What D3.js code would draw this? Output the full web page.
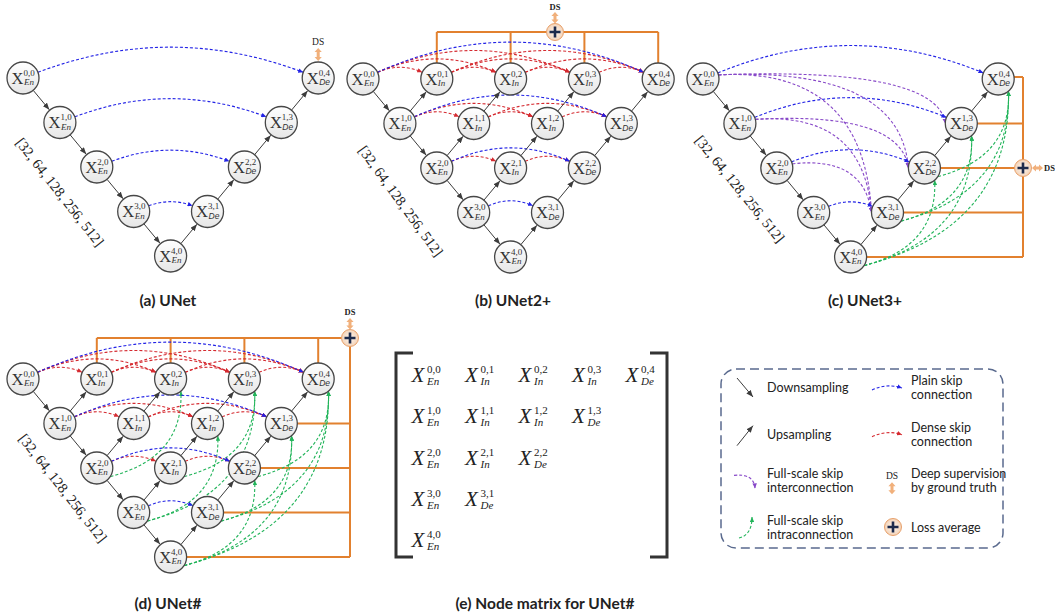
<!DOCTYPE html>
<html>
<head>
<meta charset="utf-8">
<script src="https://cdn.jsdelivr.net/npm/d3@7"></script>
<style>
  body { margin: 0; background: #fff; }
  svg { display: block; }
</style>
</head>
<body>
<svg id="chart"></svg>
<script>
const W = 1055, H = 616;

// node ids are "level,column"
const unetNodes = ["0,0", "1,0", "2,0", "3,0", "4,0", "3,1", "2,2", "1,3", "0,4"];
const nestedNodes = ["0,0", "1,0", "2,0", "3,0", "4,0", "0,1", "1,1", "2,1", "3,1",
  "0,2", "1,2", "2,2", "0,3", "1,3", "0,4"];

const downEdges = [["0,0", "1,0"], ["1,0", "2,0"], ["2,0", "3,0"], ["3,0", "4,0"]];
const upEdgesUNet = [["4,0", "3,1"], ["3,1", "2,2"], ["2,2", "1,3"], ["1,3", "0,4"]];
const upEdgesNested = [["1,0", "0,1"], ["2,0", "1,1"], ["1,1", "0,2"], ["3,0", "2,1"],
  ["2,1", "1,2"], ["1,2", "0,3"], ["4,0", "3,1"], ["3,1", "2,2"], ["2,2", "1,3"], ["1,3", "0,4"]];

const plainSkips = [["0,0", "0,4"], ["1,0", "1,3"], ["2,0", "2,2"], ["3,0", "3,1"]];
const denseSkips = [
  ["0,0", "0,1"], ["0,0", "0,2"], ["0,0", "0,3"], ["0,1", "0,2"], ["0,1", "0,3"], ["0,1", "0,4"],
  ["0,2", "0,3"], ["0,2", "0,4"], ["0,3", "0,4"],
  ["1,0", "1,1"], ["1,0", "1,2"], ["1,1", "1,2"], ["1,1", "1,3"], ["1,2", "1,3"],
  ["2,0", "2,1"], ["2,1", "2,2"]
];
const interSkips3 = [["0,0", "1,3"], ["0,0", "2,2"], ["0,0", "3,1"], ["1,0", "2,2"], ["1,0", "3,1"], ["2,0", "3,1"]];
const intraSkips3 = [["4,0", "2,2"], ["4,0", "1,3"], ["4,0", "0,4"], ["3,1", "1,3"], ["3,1", "0,4"], ["2,2", "0,4"]];
const intraSkipsSharp = [["2,0", "0,2"], ["2,1", "0,3"], ["3,0", "0,3"], ["3,0", "1,2"], ["2,2", "0,4"],
  ["3,1", "0,4"], ["4,0", "0,4"], ["3,1", "1,3"], ["4,0", "1,3"], ["4,0", "2,2"]];

const dsTopNodes = ["0,1", "0,2", "0,3", "0,4"];
const dsRightNodes3 = ["0,4", "1,3", "2,2", "3,1", "4,0"];
const dsRightNodesSharp = ["1,3", "2,2", "3,1", "4,0"];

const channelLabel = "[32, 64, 128, 256, 512]";
const titles = ["(a) UNet", "(b) UNet2+", "(c) UNet3+", "(d) UNet#", "(e) Node matrix for UNet#"];

const matrixRows = [
  ["0,0", "0,1", "0,2", "0,3", "0,4"],
  ["1,0", "1,1", "1,2", "1,3"],
  ["2,0", "2,1", "2,2"],
  ["3,0", "3,1"],
  ["4,0"]
];

const legendLeft = [["Downsampling"], ["Upsampling"], ["Full-scale skip", "interconnection"], ["Full-scale skip", "intraconnection"]];
const legendRight = [["Plain skip", "connection"], ["Dense skip", "connection"], ["Deep supervision", "by ground truth"], ["Loss average"]];

const col = {
  blue: "#2323e6", red: "#d52a30", purple: "#8748c8", green: "#22b45a",
  gray: "#3c3c3c", orange: "#e2812f", ds: "#f1b07b"
};
const serif = "'Liberation Serif', 'Times New Roman', serif";
const sans = "Lato, 'Open Sans', sans-serif";
const arial = "'Liberation Sans', Arial, sans-serif";
const R = 16, stepX = 36.9, stepY = 44.5;

const svg = d3.select("#chart").attr("width", W).attr("height", H);
const defs = svg.append("defs");

const ng = defs.append("linearGradient").attr("id", "nodeGrad").attr("x1", 0).attr("y1", 0).attr("x2", 0).attr("y2", 1);
ng.append("stop").attr("offset", "0%").attr("stop-color", "#ffffff");
ng.append("stop").attr("offset", "100%").attr("stop-color", "#e6e6e6");
const lg = defs.append("radialGradient").attr("id", "lossGrad");
lg.append("stop").attr("offset", "0%").attr("stop-color", "#fdf6f0");
lg.append("stop").attr("offset", "100%").attr("stop-color", "#f3d3b8");

function marker(id, color, w, h) {
  defs.append("marker").attr("id", id)
    .attr("viewBox", `0 0 ${w} ${h}`).attr("refX", w).attr("refY", h / 2)
    .attr("markerWidth", w).attr("markerHeight", h)
    .attr("markerUnits", "userSpaceOnUse").attr("orient", "auto")
    .append("path").attr("d", `M0,0L${w},${h / 2}L0,${h}Z`).attr("fill", color);
}
marker("m-gray", col.gray, 7, 5.5);
["blue", "red", "purple", "green"].forEach(k => marker("m-" + k, col[k], 5, 4.5));

function toward(p, q, d) {
  const dx = q.x - p.x, dy = q.y - p.y, L = Math.hypot(dx, dy);
  return { x: p.x + dx / L * d, y: p.y + dy / L * d };
}
function onCircle(p, deg) {
  const a = deg * Math.PI / 180;
  return { x: p.x + R * Math.cos(a), y: p.y + R * Math.sin(a) };
}

function solidArrow(g, a, b) {
  g.append("line").attr("x1", a.x).attr("y1", a.y).attr("x2", b.x).attr("y2", b.y)
    .attr("stroke", col.gray).attr("stroke-width", 1).attr("marker-end", "url(#m-gray)");
}
function dashed(g, d, c) {
  g.append("path").attr("d", d).attr("fill", "none").attr("stroke", col[c])
    .attr("stroke-width", 1.1).attr("stroke-dasharray", "3,2").attr("marker-end", `url(#m-${c})`);
}

function dsArrow(g, p1, p2) {
  const dx = p2.x - p1.x, dy = p2.y - p1.y, L = Math.hypot(dx, dy);
  const u = { x: dx / L, y: dy / L }, n = { x: -u.y, y: u.x };
  const hl = 4, hw = 3.6, sw = 1.5;
  const pt = (p, a, b) => [p.x + u.x * a + n.x * b, p.y + u.y * a + n.y * b];
  const pts = [pt(p1, 0, 0), pt(p1, hl, hw), pt(p1, hl, sw), pt(p2, -hl, sw), pt(p2, -hl, hw),
    pt(p2, 0, 0), pt(p2, -hl, -hw), pt(p2, -hl, -sw), pt(p1, hl, -sw), pt(p1, hl, -hw)];
  g.append("polygon").attr("points", pts.map(p => p.join(",")).join(" ")).attr("fill", col.ds);
}
function lossAvg(g, x, y) {
  g.append("circle").attr("cx", x).attr("cy", y).attr("r", 8.5)
    .attr("fill", "url(#lossGrad)").attr("stroke", "#e8a06a").attr("stroke-width", 1);
  g.append("path").attr("d", `M${x - 5.5},${y}H${x + 5.5}M${x},${y - 5.5}V${y + 5.5}`)
    .attr("stroke", "#1c2a4b").attr("stroke-width", 2.6);
}
function dsText(g, x, y, bold, anchor) {
  g.append("text").attr("x", x).attr("y", y).attr("text-anchor", anchor || "middle")
    .attr("font-family", serif).attr("font-size", bold ? 8.5 : 9.5)
    .attr("font-weight", bold ? "bold" : "normal").attr("fill", "#222").text("DS");
}
function orangeLine(g, pts) {
  g.append("polyline").attr("points", pts.map(p => p.join(",")).join(" "))
    .attr("fill", "none").attr("stroke", col.orange).attr("stroke-width", 2);
}

const panels = [
  { x0: 23, y0: 78, nodes: unetNodes, ups: upEdgesUNet, dense: [], inter: [], intra: [], peak: 3.5, lab: [37, 114, 52], ds: "a" },
  { x0: 363, y0: 79, nodes: nestedNodes, ups: upEdgesNested, dense: denseSkips, inter: [], intra: [], peak: 4.2, lab: [38, 122, 54], ds: "b" },
  { x0: 703, y0: 79, nodes: unetNodes, ups: upEdgesUNet, dense: [], inter: interSkips3, intra: intraSkips3, peak: 3.8, lab: [37, 110, 51], ds: "c" },
  { x0: 23, y0: 379, nodes: nestedNodes, ups: upEdgesNested, dense: denseSkips, inter: [], intra: intraSkipsSharp, peak: 4.2, lab: [40, 109, 52], ds: "d" }
];

panels.forEach(p => {
  const x = d3.scaleLinear().domain([0, 8]).range([p.x0, p.x0 + 8 * stepX]);
  const y = d3.scaleLinear().domain([0, 4]).range([p.y0, p.y0 + 4 * stepY]);
  const pos = id => {
    const [l, c] = id.split(",").map(Number);
    return { x: x(l + 2 * c), y: y(l), l, c };
  };
  const g = svg.append("g");

  // deep supervision wiring (behind everything)
  if (p.ds === "a") {
    const t = pos("0,4");
    dsArrow(g, { x: t.x, y: t.y - R - 1 }, { x: t.x, y: t.y - R - 14 });
    dsText(g, t.x, t.y - R - 17, false);
  } else if (p.ds === "b") {
    const by = p.y0 - 47, cx = p.x0 + 192;
    orangeLine(g, [[pos("0,1").x, by], [pos("0,4").x, by]]);
    dsTopNodes.forEach(id => { const n = pos(id); orangeLine(g, [[n.x, by], [n.x, n.y]]); });
    lossAvg(g, cx, by);
    dsArrow(g, { x: cx, y: by - 8.5 }, { x: cx, y: by - 20 });
    dsText(g, cx, by - 22, true);
  } else if (p.ds === "c") {
    const bx = p.x0 + 320;
    orangeLine(g, [[bx, pos("0,4").y - 2], [bx, pos("4,0").y]]);
    dsRightNodes3.forEach(id => {
      const n = pos(id), yy = n.y - (id === "0,4" ? 2 : 0);
      orangeLine(g, [[n.x, yy], [bx, yy]]);
    });
    const cy = pos("2,2").y;
    lossAvg(g, bx, cy);
    dsArrow(g, { x: bx + 9, y: cy }, { x: bx + 20, y: cy });
    dsText(g, bx + 21, cy + 3, true, "start");
  } else if (p.ds === "d") {
    const by = p.y0 - 41, bx = p.x0 + 327;
    orangeLine(g, [[pos("0,1").x, by], [bx, by], [bx, pos("4,0").y]]);
    dsTopNodes.forEach(id => { const n = pos(id); orangeLine(g, [[n.x, by], [n.x, n.y]]); });
    dsRightNodesSharp.forEach(id => { const n = pos(id); orangeLine(g, [[n.x, n.y], [bx, n.y]]); });
    lossAvg(g, bx, by);
    dsArrow(g, { x: bx, y: by - 8.5 }, { x: bx, y: by - 20 });
    dsText(g, bx, by - 23, true);
  }

  // full-scale intraconnections (green)
  p.intra.forEach(([s, t]) => {
    const a = onCircle(pos(s), 32), b = onCircle(pos(t), 50);
    const cy = a.y - 0.22 * (a.y - b.y);
    dashed(g, `M${a.x},${a.y}Q${b.x + 3},${cy} ${b.x},${b.y}`, "green");
  });
  // full-scale interconnections (purple)
  p.inter.forEach(([s, t]) => {
    const a = onCircle(pos(s), -15), b = onCircle(pos(t), 180);
    dashed(g, `M${a.x},${a.y}Q${b.x - 8},${a.y - 8} ${b.x},${b.y}`, "purple");
  });
  // dense then plain skip arcs
  const arc = ([s, t], c) => {
    const a0 = pos(s), b0 = pos(t);
    const steps = (b0.c - a0.c) * 2;
    const C = { x: (a0.x + b0.x) / 2, y: a0.y - 2 * p.peak * steps };
    const a = toward(a0, C, R), b = toward(b0, C, R);
    dashed(g, `M${a.x},${a.y}Q${C.x},${C.y} ${b.x},${b.y}`, c);
  };
  p.dense.forEach(e => arc(e, "red"));
  plainSkips.forEach(e => arc(e, "blue"));

  // down / up sampling
  downEdges.concat(p.ups).forEach(([s, t]) => {
    const a0 = pos(s), b0 = pos(t);
    solidArrow(g, toward(a0, b0, R), toward(b0, a0, R + 0.5));
  });

  // nodes
  p.nodes.forEach(id => {
    const n = pos(id);
    const type = n.c === 0 ? "En" : (n.l + n.c === 4 ? "De" : "In");
    g.append("circle").attr("cx", n.x).attr("cy", n.y).attr("r", R)
      .attr("fill", "url(#nodeGrad)").attr("stroke", "#474747").attr("stroke-width", 1.3);
    g.append("text").attr("x", n.x + 0.5).attr("y", n.y + 5.5).attr("text-anchor", "end")
      .attr("font-family", serif).attr("font-size", 16.5).attr("fill", "#333").text("X");
    g.append("text").attr("x", n.x + 0.5).attr("y", n.y - 2.5)
      .attr("font-family", serif).attr("font-size", 9).attr("fill", "#333").text(`${n.l},${n.c}`);
    g.append("text").attr("x", n.x + 1).attr("y", n.y + 7)
      .attr("font-family", type === "De" ? arial : serif).attr("font-style", "italic")
      .attr("font-size", type === "De" ? 8.5 : 9).attr("fill", "#333").text(type);
  });

  // channel label
  g.append("text")
    .attr("transform", `translate(${p.x0 + p.lab[0]},${p.y0 + p.lab[1]}) rotate(${p.lab[2]})`)
    .attr("text-anchor", "middle").attr("dy", "0.35em")
    .attr("font-family", serif).attr("font-size", 14.5).attr("fill", "#222").text(channelLabel);
});

// titles
const titlePos = [[168, 306], [513, 306], [865, 306], [168, 609], [545, 609]];
svg.selectAll(".title").data(titles).enter().append("text")
  .attr("x", (d, i) => titlePos[i][0]).attr("y", (d, i) => titlePos[i][1])
  .attr("text-anchor", "middle").attr("font-family", sans).attr("font-weight", "bold")
  .attr("font-size", 15.5).attr("fill", "#222").text(d => d);

// (e) node matrix
const mx = d3.scalePoint().domain([0, 1, 2, 3, 4]).range([418, 632]);
const my = d3.scalePoint().domain([0, 1, 2, 3, 4]).range([375, 540]);
const mg = svg.append("g");
mg.append("path").attr("d", "M413,353H396V557H413M650,353H667V557H650")
  .attr("fill", "none").attr("stroke", "#333").attr("stroke-width", 3);
matrixRows.forEach((row, i) => row.forEach((id, j) => {
  const [l, c] = id.split(",").map(Number);
  const type = c === 0 ? "En" : (l + c === 4 ? "De" : "In");
  const X = mx(j), Y = my(i);
  mg.append("text").attr("x", X).attr("y", Y + 7).attr("text-anchor", "middle")
    .attr("font-family", serif).attr("font-style", "italic").attr("font-size", 21).attr("fill", "#222").text("X");
  mg.append("text").attr("x", X + 9).attr("y", Y - 2)
    .attr("font-family", serif).attr("font-size", 11).attr("fill", "#222").text(`${l},${c}`);
  mg.append("text").attr("x", X + 9).attr("y", Y + 10)
    .attr("font-family", serif).attr("font-style", "italic").attr("font-size", 11).attr("fill", "#222").text(type);
}));

// legend
const lgd = svg.append("g");
lgd.append("rect").attr("x", 721).attr("y", 369).attr("width", 282).attr("height", 179).attr("rx", 15)
  .attr("fill", "none").attr("stroke", "#5a6a8e").attr("stroke-width", 1.5).attr("stroke-dasharray", "9,5");
const rowY = d3.scaleLinear().domain([0, 3]).range([388, 528]);
function legendText(x, i, lines) {
  const cy = rowY(i);
  lines.forEach((s, k) => {
    lgd.append("text").attr("x", x).attr("y", lines.length === 1 ? cy + 4 : cy - 3 + k * 14)
      .attr("font-family", sans).attr("font-size", 12.5).attr("fill", "#222").text(s);
  });
}
legendLeft.forEach((l, i) => legendText(767, i, l));
legendRight.forEach((l, i) => legendText(911, i, l));
solidArrow(lgd, { x: 737, y: rowY(0) - 10 }, { x: 753, y: rowY(0) + 9 });
solidArrow(lgd, { x: 737, y: rowY(1) + 11 }, { x: 753, y: rowY(1) - 9 });
dashed(lgd, `M734,${rowY(2) - 6}Q754,${rowY(2) - 8} 755,${rowY(2) + 7}`, "purple");
dashed(lgd, `M739,${rowY(3) + 10}Q752,${rowY(3) + 7} 752,${rowY(3) - 11}`, "green");
dashed(lgd, `M872,${rowY(0) + 2}Q887,${rowY(0) - 5} 902,${rowY(0)}`, "blue");
dashed(lgd, `M872,${rowY(1) + 2}Q887,${rowY(1) - 5} 902,${rowY(1)}`, "red");
dsText(lgd, 892, rowY(2) - 2, false);
dsArrow(lgd, { x: 892, y: rowY(2) + 1 }, { x: 892, y: rowY(2) + 13 });
lossAvg(lgd, 893, rowY(3) - 1);
</script>
</body>
</html>
